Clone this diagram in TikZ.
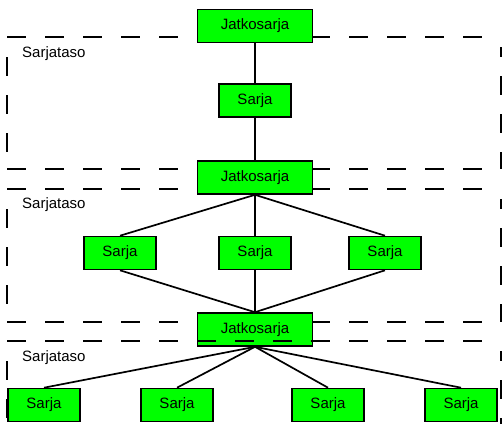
\documentclass[tikz,border=0pt]{standalone}
\usepackage{fontspec}
\setmainfont{Liberation Sans}
\usetikzlibrary{positioning}

\begin{document}
\begin{tikzpicture}[x=1pt, y=-1pt,
  box/.style={draw, fill=green, line width=1.6pt, inner sep=0pt,
              minimum height=33pt, font=\fontsize{15}{18}\selectfont},
  jatko/.style={box, minimum width=115pt},
  sarja/.style={box, minimum width=72pt},
  taso/.style={line width=1.6pt, dash pattern=on 19pt off 19pt},
  tasolabel/.style={anchor=base west, inner sep=0pt, font=\fontsize{15}{18}\selectfont},
  link/.style={line width=1.7pt}]
\useasboundingbox (0,0) rectangle (502,423);
\clip (0,0) rectangle (502,423);
% frames behind the boxes
\foreach \t/\b in {37/169, 189/322} {
  \draw[taso] (7,\t) -- (482,\t);
  \draw[taso] (7,\b) -- (482,\b);
  \draw[taso, dash phase=9pt] (501,\t+10) -- (501,\b);
  \draw[taso] (7,\t+20) -- (7,\b);
}
\node[tasolabel] (l1) at (22,57) {Sarjataso};
\node[tasolabel] (l2) at (22,208) {Sarjataso};
\node[tasolabel] (l3) at (22,361) {Sarjataso};
% series
\node[jatko] (j1) at (255,26) {Jatkosarja};
\node[sarja] (s1) at (255,100.5) {Sarja};
\node[jatko] (j2) at (255,177.5) {Jatkosarja};
\node[sarja] (s2a) at (120,253) {Sarja};
\node[sarja] (s2b) at (255,253) {Sarja};
\node[sarja] (s2c) at (385,253) {Sarja};
\node[jatko] (j3) at (255,329.5) {Jatkosarja};
\node[sarja] (s3a) at (44,405) {Sarja};
\node[sarja] (s3b) at (177,405) {Sarja};
\node[sarja] (s3c) at (328,405) {Sarja};
\node[sarja] (s3d) at (461,405) {Sarja};
\draw[link] (j1) -- (s1);
\draw[link] (s1) -- (j2);
\foreach \s in {s2a, s2b, s2c} {
  \draw[link] (j2.south) -- (\s.north);
  \draw[link] (\s.south) -- (j3.north);
}
\foreach \s in {s3a, s3b, s3c, s3d}
  \draw[link] (j3.south) -- (\s.north);
% last frame lies over its box
\draw[taso] (7,341) -- (482,341);
\draw[taso, dash phase=9pt] (501,351) -- (501,440);
\draw[taso] (7,361) -- (7,440);
\end{tikzpicture}
\end{document}
